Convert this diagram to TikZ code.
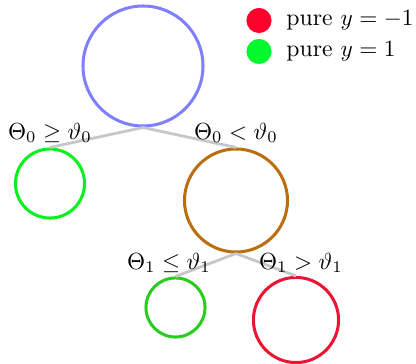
\documentclass[tikz,border=0pt]{standalone}
\begin{document}
\begin{tikzpicture}[x=0.43pt,y=-0.43pt,
  tnode/.style={circle,draw,line width=1.3pt,inner sep=0pt},
  edge/.style={draw=black!22,line width=1.2pt},
  dot/.style={circle,inner sep=0pt,minimum size=10.8pt},
  lbl/.style={inner sep=0pt},
  leg/.style={inner sep=0pt,anchor=west,font=\fontsize{10.2}{12}\selectfont}]
\useasboundingbox (0,0) rectangle (416,364);
\definecolor{cblue}{RGB}{128,128,255}
\definecolor{cgreenA}{RGB}{10,240,30}
\definecolor{cbrown}{RGB}{187,110,15}
\definecolor{cgreenB}{RGB}{40,205,30}
\definecolor{cred}{RGB}{235,20,50}
\definecolor{lred}{RGB}{255,0,45}
\definecolor{lgreen}{RGB}{0,250,45}
\node[tnode,draw=cblue,minimum size=51.6pt] (root) at (143,66) {};
\node[tnode,draw=cgreenA,minimum size=29.7pt] (l) at (50,183.5) {};
\node[tnode,draw=cbrown,minimum size=44.3pt] (r) at (236,200.5) {};
\node[tnode,draw=cgreenB,minimum size=25.4pt] (rl) at (175.5,307.5) {};
\node[tnode,draw=cred,minimum size=36.6pt] (rr) at (296,320) {};
\draw[edge] (root.south) -- (l.north);
\draw[edge] (root.south) -- (r.north);
\draw[edge] (r.south) -- (rl.north);
\draw[edge] (r.south) -- (rr.north);
\node[lbl] (t1) at (50,133) {$\Theta_0 \geq \vartheta_0$};
\node[lbl] (t2) at (236,133) {$\Theta_0 < \vartheta_0$};
\node[lbl] (t3) at (169,263) {$\Theta_1 \leq \vartheta_1$};
\node[lbl] (t4) at (301,263) {$\Theta_1 > \vartheta_1$};
\node[dot,fill=lred] (d1) at (259,20.5) {};
\node[dot,fill=lgreen] (d2) at (259,51.5) {};
\node[leg] (e1) at (286,20.5) {pure $y=-1$};
\node[leg] (e2) at (286,51.5) {pure $y=1$};
\end{tikzpicture}
\end{document}
